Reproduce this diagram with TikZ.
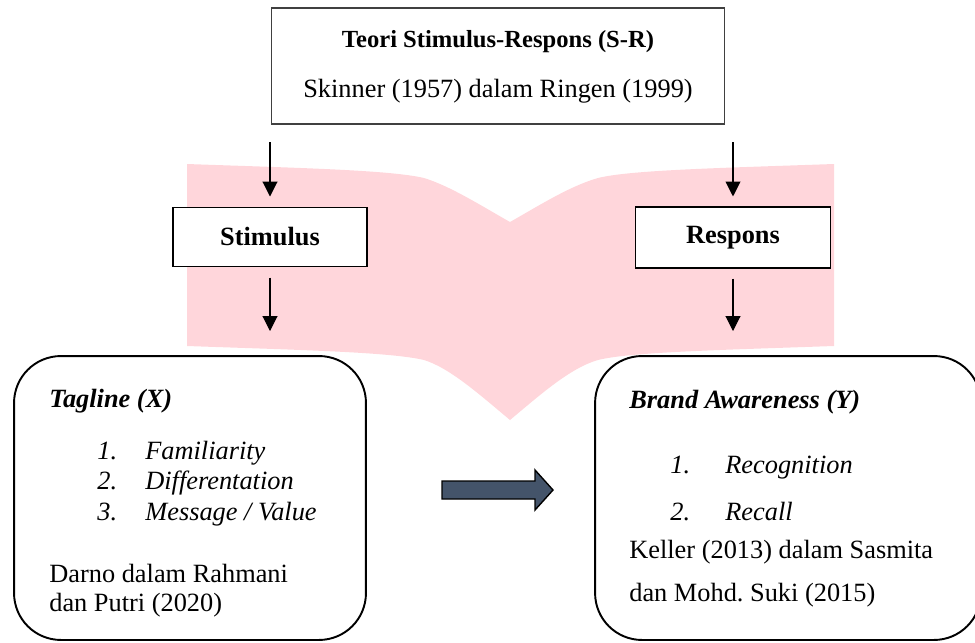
\documentclass[tikz,border=0pt]{standalone}
\usepackage{fontspec}
\setmainfont{Liberation Serif}
\usetikzlibrary{arrows.meta}
\definecolor{pinkbg}{RGB}{255,214,219}
\definecolor{slate}{RGB}{68,84,106}

\begin{document}
\begin{tikzpicture}[x=0.02cm,y=-0.02cm,
  font=\fontsize{15}{18}\selectfont\frenchspacing,
  box/.style={draw,line width=0.6pt,inner sep=0pt},
  roundbox/.style={draw,line width=1.1pt,rounded corners=26.7pt,inner sep=0pt,fill=white},
  txt/.style={anchor=base west,inner sep=0pt},
  arr/.style={-{Triangle[width=8.5pt,length=8.5pt]},line width=0.6pt}]
\clip (0,0) rectangle (975,643);
\fill[pinkbg] (187,164) .. controls (300,168) and (390,170) .. (424,178)
  .. controls (450,186) and (480,205) .. (510,222)
  .. controls (540,205) and (570,186) .. (598,178)
  .. controls (630,170) and (720,168) .. (834,164) -- (834,346)
  .. controls (720,350) and (630,352) .. (598,360)
  .. controls (570,368) and (540,395) .. (510,420)
  .. controls (480,395) and (450,368) .. (424,360)
  .. controls (390,352) and (300,350) .. (187,346) -- cycle;
\node[box,draw=black!75,minimum width=258.3pt,minimum height=66pt] (sr) at (498,66) {};
\node[txt,anchor=base] (sr1) at (498,47) {\fontsize{14}{17}\selectfont\textbf{Teori Stimulus-Respons (S-R)}};
\node[txt,anchor=base] (sr2) at (498,97) {Skinner (1957) dalam Ringen (1999)};
\node[box,fill=white,minimum width=110.4pt,minimum height=34.1pt] (stim) at (270,237) {\textbf{Stimulus}};
\node[box,fill=white,minimum width=111.5pt,minimum height=34.7pt] (resp) at (733,237.5) {\textbf{Respons}};
\node[roundbox,minimum width=200.3pt,minimum height=161.6pt] (tag) at (190,498) {};
\node[roundbox,minimum width=219.6pt,minimum height=161.6pt] (ba) at (788,498) {};
\node[txt] (x0) at (49,407) {\textbf{\textit{Tagline (X)}}};
\node[txt] (x1) at (97,459) {\textit{1.}};
\node[txt] (x1t) at (145,459) {\textit{Familiarity}};
\node[txt] (x2) at (97,489) {\textit{2.}};
\node[txt] (x2t) at (145,489) {\textit{Differentation}};
\node[txt] (x3) at (97,520) {\textit{3.}};
\node[txt] (x3t) at (145,520) {\textit{Message / Value}};
\node[txt] (x4) at (49,582) {Darno dalam Rahmani};
\node[txt] (x5) at (49,611) {dan Putri (2020)};
\node[txt] (y0) at (629,408) {\textbf{\textit{Brand Awareness (Y)}}};
\node[txt] (y1) at (670,473) {\textit{1.}};
\node[txt] (y1t) at (725,473) {\textit{Recognition}};
\node[txt] (y2) at (670,520) {\textit{2.}};
\node[txt] (y2t) at (725,520) {\textit{Recall}};
\node[txt] (y3) at (629,558) {Keller (2013) dalam Sasmita};
\node[txt] (y4) at (629,601) {dan Mohd. Suki (2015)};
\draw[arr,shorten <=10.2pt,shorten >=5.7pt] (sr.south -| stim.north) -- (stim.north);
\draw[arr,shorten <=10.2pt,shorten >=5.7pt] (sr.south -| resp.north) -- (resp.north);
\draw[arr,shorten <=5.7pt,shorten >=13.7pt] (stim.south) -- (stim.south |- tag.north);
\draw[arr,shorten <=5.7pt,shorten >=13.7pt] (resp.south) -- (resp.south |- ba.north);
\draw[fill=slate,line width=0.8pt] (442,481) -- (535,481) -- (535,470) -- (553,490)
  -- (535,510) -- (535,499) -- (442,499) -- cycle;
\end{tikzpicture}
\end{document}
